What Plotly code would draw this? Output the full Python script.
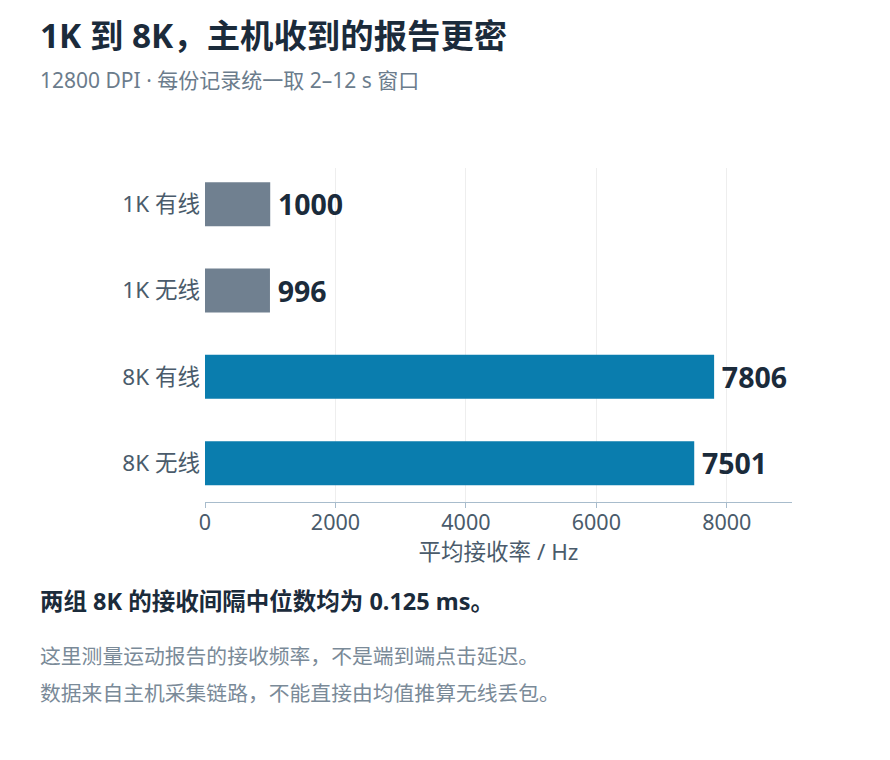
import plotly.graph_objects as go

categories = ["1K 有线", "1K 无线", "8K 有线", "8K 无线"]
values = [1000, 996, 7806, 7501]
bar_colors = ["#708090", "#708090", "#0a7dae", "#0a7dae"]

title = "1K 到 8K，主机收到的报告更密"
subtitle = "12800 DPI · 每份记录统一取 2–12 s 窗口"
x_title = "平均接收率 / Hz"
headline = "两组 8K 的接收间隔中位数均为 0.125 ms。"
notes = ["这里测量运动报告的接收频率，不是端到端点击延迟。",
         "数据来自主机采集链路，不能直接由均值推算无线丢包。"]

FONT = "Noto Sans, Noto Sans CJK SC, sans-serif"
W, H = 890, 760
L, R, T, B = 197, 106, 160, 266

fig = go.Figure(go.Bar(
    x=values, y=categories, orientation="h",
    marker=dict(color=bar_colors, line=dict(width=0)),
    width=0.51,
    text=["\u2009" + str(v) for v in values], textposition="outside",
    textfont=dict(size=28.5, color="#1b2b3b", family=FONT, weight="bold"),
    cliponaxis=False,
))

fig.update_layout(
    width=W, height=H,
    margin=dict(l=L, r=R, t=T, b=B),
    paper_bgcolor="white", plot_bgcolor="white",
    font=dict(family=FONT, color="#4a5b6b"),
    showlegend=False,
)
fig.update_xaxes(
    range=[0, 9000], tickvals=[0, 2000, 4000, 6000, 8000],
    showgrid=True, gridcolor="#eeeeee", gridwidth=1,
    showline=True, linecolor="#a8bccc", linewidth=1,
    ticks="outside", ticklen=5, tickcolor="#a8bccc",
    ticklabelstandoff=-4,
    tickfont=dict(size=21.5, color="#4a5b6b"),
    title=dict(text=x_title, font=dict(size=22.5, color="#4a5b6b"), standoff=4),
    zeroline=False,
)
fig.update_yaxes(
    categoryorder="array", categoryarray=categories,
    range=[3.45, -0.42],
    tickfont=dict(size=22.5, color="#4a5b6b"),
    ticks="", ticklabelstandoff=4, showgrid=False, showline=False,
)

def paper_text(txt, x_px, y_px, size, color, bold=False):
    # x_px, y_px are positions in the page screenshot (figure is offset by 8px body margin)
    fx, fy = x_px - 8, y_px - 8
    fig.add_annotation(
        text=(f"<b>{txt}</b>" if bold else txt),
        xref="paper", yref="paper",
        x=(fx - L) / (W - L - R),
        y=(H - B - fy) / (H - T - B),
        xanchor="left", yanchor="middle", showarrow=False,
        font=dict(size=size, color=color, family=FONT),
    )

paper_text(title, 38, 35, 33.4, "#1b2b3b", bold=True)
paper_text(subtitle, 38, 80, 21, "#6b7c8c")
paper_text(headline, 38, 601, 23.5, "#1b2b3b", bold=True)
paper_text(notes[0], 38, 656, 20.8, "#7a8a98")
paper_text(notes[1], 38, 693, 20.8, "#7a8a98")

fig.write_html("out.html")
